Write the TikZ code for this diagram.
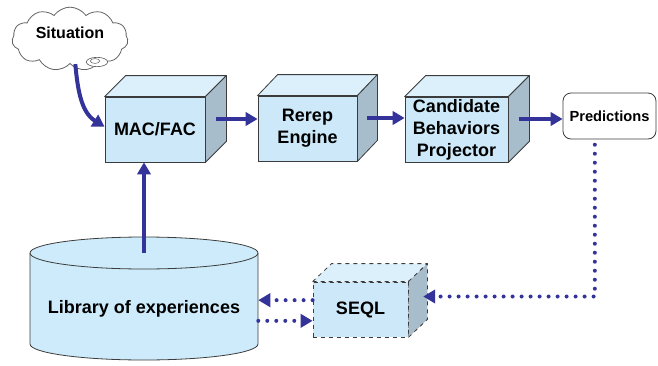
\documentclass[tikz,border=0pt]{standalone}
\usepackage{fontspec}
\setmainfont{Liberation Sans}
\usetikzlibrary{arrows.meta,positioning,calc,shapes.symbols}
\definecolor{arrblue}{HTML}{33339A}
\definecolor{cubefront}{HTML}{CDE9F9}
\definecolor{cubetopc}{HTML}{DCF0FB}
\definecolor{cubesidec}{HTML}{A7BDCC}
\definecolor{edgegray}{HTML}{3C3C3C}
\definecolor{libfill}{HTML}{CDEBFA}
\tikzset{
  frontbox/.style={draw=edgegray, fill=cubefront, line width=0.6pt, align=center,
                   font=\fontsize{13.5}{16.5}\selectfont\bfseries, inner sep=0pt},
  cubetop/.style={draw=edgegray, fill=cubetopc, line width=0.6pt, line join=round},
  cubeside/.style={draw=edgegray, fill=cubesidec, line width=0.6pt, line join=round},
  arr/.style={-{Triangle[length=9pt,width=10pt]}, line width=3pt, color=arrblue},
  dotarr/.style={arr, line cap=round, dash pattern=on 0pt off 6.75pt}}
% top and right faces of a box drawn behind node #2, depth (#3,#4)
\newcommand{\cubesides}[4][]{%
  \filldraw[cubetop,#1] (#2.north west) -- ++(#3,#4) -- ++($(#2.north east)-(#2.north west)$)
    -- (#2.north east) -- cycle;
  \filldraw[cubeside,#1] (#2.north east) -- ++(#3,#4) -- ++($(#2.south east)-(#2.north east)$)
    -- (#2.south east) -- cycle;
  \coordinate (#2side) at ($(#2.east)+0.5*(#3,#4)$);}

\begin{document}
\begin{tikzpicture}[x=0.75pt, y=-0.75pt]
  \useasboundingbox (0,0) rectangle (658,365);
  % situation cloud
  \node[cloud, cloud puffs=11, cloud puff arc=110, aspect=2.2, draw=edgegray!80, fill=white,
        line width=0.6pt, minimum width=87pt, minimum height=39pt, text depth=9pt,
        font=\fontsize{12}{14}\selectfont\bfseries] (sit) at (70,39) {Situation};
  \draw[edgegray!80, line width=0.5pt, fill=white] (97,62) ellipse [x radius=8pt, y radius=3.5pt];
  \draw[edgegray!80, line width=0.4pt] (95,61) ellipse [x radius=3.5pt, y radius=1.8pt];
  % pipeline boxes
  \node[frontbox, minimum width=75pt, minimum height=48.75pt] (mac) at (155,129.5) {MAC/FAC};
  \cubesides{mac}{21}{-21}
  \node[frontbox, minimum width=74.25pt, minimum height=48.75pt] (rerep) at (307.5,128.5) {Rerep\\Engine};
  \cubesides{rerep}{20}{-21}
  \node[frontbox, minimum width=77.25pt, minimum height=48.75pt] (cand) at (456.5,129.5)
    {Candidate\\Behaviors\\Projector};
  \cubesides{cand}{21}{-21}
  \node[draw=edgegray, fill=white, rounded corners=6pt, line width=0.6pt, minimum width=69.75pt,
        minimum height=34.5pt, font=\fontsize{11}{13}\selectfont\bfseries] (pred) at (609.5,116) {Predictions};
  % library of experiences
  \fill[libfill] (30,253) -- (30,344) arc[start angle=180, end angle=360, x radius=85.5pt, y radius=12pt]
    -- (258,253) -- cycle;
  \draw[edgegray, line width=0.6pt] (30,253) -- (30,344)
    arc[start angle=180, end angle=360, x radius=85.5pt, y radius=12pt] -- (258,253);
  \draw[edgegray, line width=0.6pt, fill=libfill] (144,253) ellipse [x radius=85.5pt, y radius=12pt];
  \node[minimum width=171pt, font=\fontsize{13.5}{16}\selectfont\bfseries] (lib) at (144,309)
    {Library of experiences};
  \coordinate (libtop) at (144,253);
  % SEQL
  \node[frontbox, dashed, minimum width=71.25pt, minimum height=41.25pt] (seql) at (360.5,309.5) {SEQL};
  \cubesides[dashed]{seql}{19}{-18}
  % connectors
  \draw[arr] ([xshift=4pt]sit.south) to[out=-85, in=148] ([yshift=2pt]mac.west);
  \draw[arr] (libtop) -- (libtop |- mac.south);
  \draw[arr] (macside) -- (macside -| rerep.west);
  \draw[arr] (rerepside) -- (rerepside -| cand.west);
  \draw[arr] (candside) -- (candside -| pred.west);
  \draw[dotarr] ([xshift=-11pt,yshift=-4pt]pred.south) |- ([xshift=4pt,yshift=3pt]seqlside);
  \draw[dotarr] ([yshift=7pt]seql.west) -- ([yshift=7pt]seql.west -| lib.east);
  \draw[dotarr] ([yshift=-8.5pt]seql.west -| lib.east) -- ([yshift=-8.5pt]seql.west);
\end{tikzpicture}
\end{document}
